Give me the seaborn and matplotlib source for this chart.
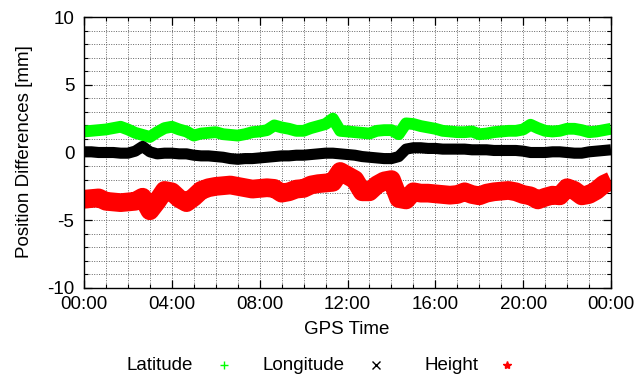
import numpy as np
import pandas as pd
import seaborn as sns
import matplotlib
matplotlib.use("Agg")
import matplotlib.pyplot as plt
from matplotlib.lines import Line2D
from matplotlib.ticker import MultipleLocator

# ---- data (20-minute steps, hours 0..24) ----
hours = [round(i / 3.0, 3) for i in range(73)]

latitude = [1.55, 1.6, 1.65, 1.7, 1.8, 1.9, 1.7, 1.45, 1.3, 1.15, 1.5, 1.8, 1.9, 1.7, 1.55, 1.25, 1.4, 1.45, 1.5,
            1.35, 1.3, 1.25, 1.35, 1.5, 1.55, 1.65, 2.0, 1.85, 1.75, 1.6, 1.6, 1.8, 1.95, 2.1, 2.5, 1.6,
            1.55, 1.5, 1.45, 1.4, 1.6, 1.65, 1.65, 1.35, 2.15, 2.1, 1.95, 1.85, 1.75, 1.6, 1.55, 1.5, 1.5, 1.55,
            1.35, 1.4, 1.5, 1.55, 1.6, 1.6, 1.7, 2.05, 1.8, 1.6, 1.55, 1.6, 1.75, 1.75, 1.65, 1.5, 1.55, 1.65, 1.75]

longitude = [0.05, 0.05, 0.0, 0.0, 0.0, -0.05, -0.05, 0.1, 0.45, 0.05, -0.1, -0.05, -0.05, -0.1, -0.1, -0.2, -0.25, -0.25, -0.3,
             -0.35, -0.45, -0.5, -0.45, -0.45, -0.4, -0.35, -0.3, -0.25, -0.25, -0.2, -0.2, -0.15, -0.1, -0.05, -0.05, -0.1,
             -0.15, -0.2, -0.3, -0.35, -0.4, -0.45, -0.45, -0.3, 0.25, 0.35, 0.35, 0.3, 0.3, 0.25, 0.25, 0.25, 0.25, 0.2,
             0.2, 0.2, 0.15, 0.15, 0.15, 0.15, 0.1, 0.0, 0.0, 0.0, 0.05, 0.05, 0.0, -0.05, -0.05, 0.05, 0.1, 0.15, 0.2]

height = [-3.45, -3.4, -3.35, -3.6, -3.65, -3.7, -3.65, -3.6, -3.3, -4.3, -3.6, -2.8, -2.9, -3.4, -3.7, -3.3, -2.8, -2.6, -2.5,
          -2.45, -2.4, -2.5, -2.6, -2.7, -2.65, -2.6, -2.65, -3.0, -2.9, -2.7, -2.65, -2.4, -2.3, -2.25, -2.2, -1.4,
          -1.7, -2.0, -2.9, -2.9, -2.4, -2.1, -2.0, -3.4, -3.5, -2.9, -3.0, -3.0, -3.05, -3.1, -3.15, -3.1, -2.9, -3.1,
          -3.2, -3.0, -2.9, -2.85, -2.8, -2.9, -3.1, -3.2, -3.5, -3.3, -3.15, -3.2, -2.6, -2.8, -3.2, -3.1, -2.8, -2.35, -2.1]

series_names = ["Latitude", "Longitude", "Height"]
x_tick_hours = [0, 4, 8, 12, 16, 20, 24]
x_tick_labels = ["00:00", "04:00", "08:00", "12:00", "16:00", "20:00", "00:00"]
y_ticks = [-10, -5, 0, 5, 10]

colors = {"Latitude": "#00ff00", "Longitude": "#000000", "Height": "#ff0000"}
widths = {"Latitude": 8.5, "Longitude": 8.0, "Height": 13.5}
markers = {"Latitude": "+", "Longitude": "x", "Height": "*"}

df = pd.DataFrame({
    "hour": hours * 3,
    "value": latitude + longitude + height,
    "series": sum([[n] * len(hours) for n in series_names], []),
})

plt.rcParams["font.family"] = ["Liberation Sans", "DejaVu Sans"]
FS = 13.5

fig = plt.figure(figsize=(6.44, 3.79), dpi=100)
ax = fig.add_axes([84 / 644, 1 - 288 / 379, (611 - 84) / 644, (288 - 17) / 379])

for name in series_names:
    sub = df[df["series"] == name]
    sns.lineplot(data=sub, x="hour", y="value", ax=ax, color=colors[name],
                 linewidth=widths[name], solid_capstyle="butt", solid_joinstyle="round",
                 legend=False, zorder=3)

ax.set_xlim(0, 24)
ax.set_ylim(-10, 10)
ax.set_xticks(x_tick_hours)
ax.set_xticklabels(x_tick_labels)
ax.set_yticks(y_ticks)
ax.set_yticklabels([str(v) for v in y_ticks])
ax.xaxis.set_minor_locator(MultipleLocator(1))
ax.yaxis.set_minor_locator(MultipleLocator(1))
ax.tick_params(which="both", direction="in", top=True, right=True, labelsize=FS, colors="black")
ax.tick_params(which="major", length=6, width=0.9)
ax.tick_params(which="minor", length=3, width=0.8)
ax.tick_params(axis="y", which="major", pad=7)
ax.tick_params(axis="x", which="major", pad=6)
ax.grid(which="both", color="#666666", linestyle=(0, (1, 1.5)), linewidth=0.7, zorder=0)
ax.set_axisbelow(True)
ax.set_xlabel("")
ax.set_ylabel("")
for s in ax.spines.values():
    s.set_color("black")
    s.set_linewidth(1.0)
    s.set_zorder(5)

fig.text(347 / 644, 1 - 329 / 379, "GPS Time", ha="center", va="center", fontsize=FS)
fig.text(25 / 644, 1 - 152 / 379, "Position Differences [mm]", ha="center", va="center",
         rotation=90, fontsize=FS)

# legend (gnuplot style: label then marker)
leg_text_x = [127, 262, 425]
leg_mark_x = [224, 376, 507]
leg_y = 1 - 365 / 379
for name, tx, mx in zip(series_names, leg_text_x, leg_mark_x):
    fig.text(tx / 644, leg_y, name, ha="left", va="center", fontsize=FS)
    fig.add_artist(Line2D([mx / 644], [leg_y], transform=fig.transFigure, marker=markers[name],
                          color=colors[name], markersize=6, markeredgewidth=1.0, linestyle="none"))

fig.savefig("out.png", dpi=100)
